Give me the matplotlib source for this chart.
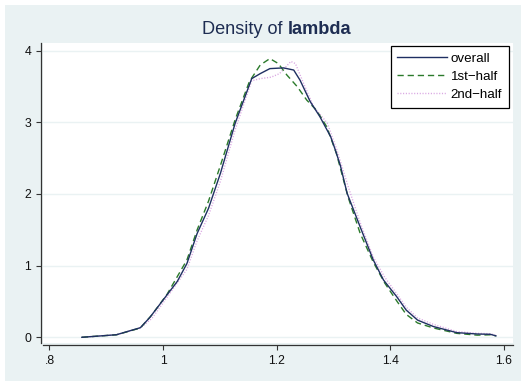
import matplotlib
matplotlib.use("Agg")
import matplotlib.pyplot as plt
from matplotlib.patches import Rectangle

plt.rcParams['font.family'] = ['Liberation Sans', 'DejaVu Sans']

# Kernel density of lambda
overall_x = [0.857, 0.918, 0.960, 0.977, 1.000, 1.025, 1.042, 1.060, 1.080, 1.101,
             1.127, 1.156, 1.171, 1.188, 1.212, 1.230, 1.241, 1.259, 1.276, 1.295,
             1.303, 1.312, 1.324, 1.347, 1.370, 1.388, 1.411, 1.428, 1.448, 1.476,
             1.517, 1.553, 1.576, 1.586]
overall_y = [0.0, 0.036, 0.134, 0.28, 0.52, 0.78, 1.03, 1.45, 1.80, 2.29,
             2.99, 3.61, 3.68, 3.75, 3.76, 3.73, 3.59, 3.29, 3.08, 2.80,
             2.62, 2.40, 2.01, 1.54, 1.08, 0.80, 0.57, 0.38, 0.24, 0.15,
             0.065, 0.046, 0.042, 0.02]

first_x = [0.857, 0.918, 0.960, 0.980, 1.007, 1.042, 1.060, 1.080, 1.101, 1.127,
           1.152, 1.171, 1.188, 1.203, 1.218, 1.236, 1.253, 1.270, 1.288, 1.305,
           1.326, 1.347, 1.370, 1.390, 1.412, 1.428, 1.448, 1.476, 1.517, 1.553,
           1.576, 1.586]
first_y = [0.0, 0.035, 0.13, 0.31, 0.60, 1.08, 1.50, 1.90, 2.40, 3.04,
           3.57, 3.80, 3.89, 3.82, 3.66, 3.50, 3.31, 3.17, 2.94, 2.57,
           1.95, 1.45, 1.05, 0.76, 0.50, 0.32, 0.20, 0.13, 0.055, 0.03,
           0.035, 0.02]

second_x = [0.857, 0.918, 0.960, 0.980, 1.000, 1.042, 1.060, 1.080, 1.101, 1.127,
            1.156, 1.171, 1.190, 1.205, 1.225, 1.233, 1.247, 1.265, 1.289, 1.305,
            1.326, 1.347, 1.370, 1.390, 1.412, 1.428, 1.448, 1.476, 1.517, 1.553,
            1.576, 1.586]
second_y = [0.0, 0.035, 0.13, 0.26, 0.48, 0.95, 1.35, 1.70, 2.18, 2.90,
            3.58, 3.61, 3.63, 3.68, 3.85, 3.82, 3.55, 3.22, 2.99, 2.64,
            2.10, 1.60, 1.12, 0.84, 0.60, 0.42, 0.27, 0.18, 0.08, 0.055,
            0.05, 0.025]

series_names = ['overall', '1st\u2212half', '2nd\u2212half']
x_ticks = [0.8, 1.0, 1.2, 1.4, 1.6]
x_tick_labels = ['.8', '1', '1.2', '1.4', '1.6']
y_ticks = [0, 1, 2, 3, 4]

fig = plt.figure(figsize=(5.21, 3.81), dpi=100)
fig.patch.set_facecolor('white')

# light bluish graph region like stata's s2color scheme
fig.patches.append(Rectangle((5 / 521, 0), 516 / 521, 376 / 381, transform=fig.transFigure,
                             facecolor='#eaf2f3', edgecolor='none', zorder=-10))

ax = fig.add_axes([43 / 521, 38 / 381, 469.7 / 521, 300 / 381])
ax.set_facecolor('white')

ax.plot(overall_x, overall_y, color='#1f2f62', lw=1.0, label=series_names[0], zorder=4)
ax.plot(first_x, first_y, color='#2b7a2b', lw=1.0, dashes=(4.5, 2.8), label=series_names[1], zorder=3)
ax.plot(second_x, second_y, color='#d9a6e2', lw=1.0, dashes=(0.8, 1.2), label=series_names[2], zorder=2)

ax.set_xlim(0.7886, 1.6155)
ax.set_ylim(-0.0796, 4.1075)
ax.set_xticks(x_ticks)
ax.set_xticklabels(x_tick_labels)
ax.set_yticks(y_ticks)

ax.yaxis.grid(True, color='#eaf2f3', lw=1.0)
ax.set_axisbelow(True)

for side in ['top', 'right']:
    ax.spines[side].set_visible(False)
for side in ['left', 'bottom']:
    ax.spines[side].set_position(('outward', 1.4))
    ax.spines[side].set_color('#333333')
    ax.spines[side].set_linewidth(0.9)

ax.tick_params(axis='both', direction='out', length=3.4, width=0.8, pad=3.6,
               labelsize=8.8, color='#333333', labelcolor='#111111')

leg = ax.legend(loc='upper right', bbox_to_anchor=(0.992, 0.99), borderaxespad=0,
                fontsize=9.6, handlelength=3.7, handletextpad=0.3, borderpad=0.5,
                labelspacing=0.42, fancybox=False, framealpha=1, edgecolor='black')
leg.get_frame().set_linewidth(0.9)

# title with a bold variable name
t1 = fig.text(0, 0.9108, 'Density of ', fontsize=13.1, color='#1e2d52', va='baseline')
t2 = fig.text(0, 0.9108, 'lambda', fontsize=13.1, color='#1e2d52', va='baseline', fontweight='bold')
fig.canvas.draw()
r = fig.canvas.get_renderer()
w1 = t1.get_window_extent(r).width
w2 = t2.get_window_extent(r).width
start = 276.5 - (w1 + w2) / 2
t1.set_x(start / 521)
t2.set_x((start + w1) / 521)

fig.savefig('out.png', dpi=100)
